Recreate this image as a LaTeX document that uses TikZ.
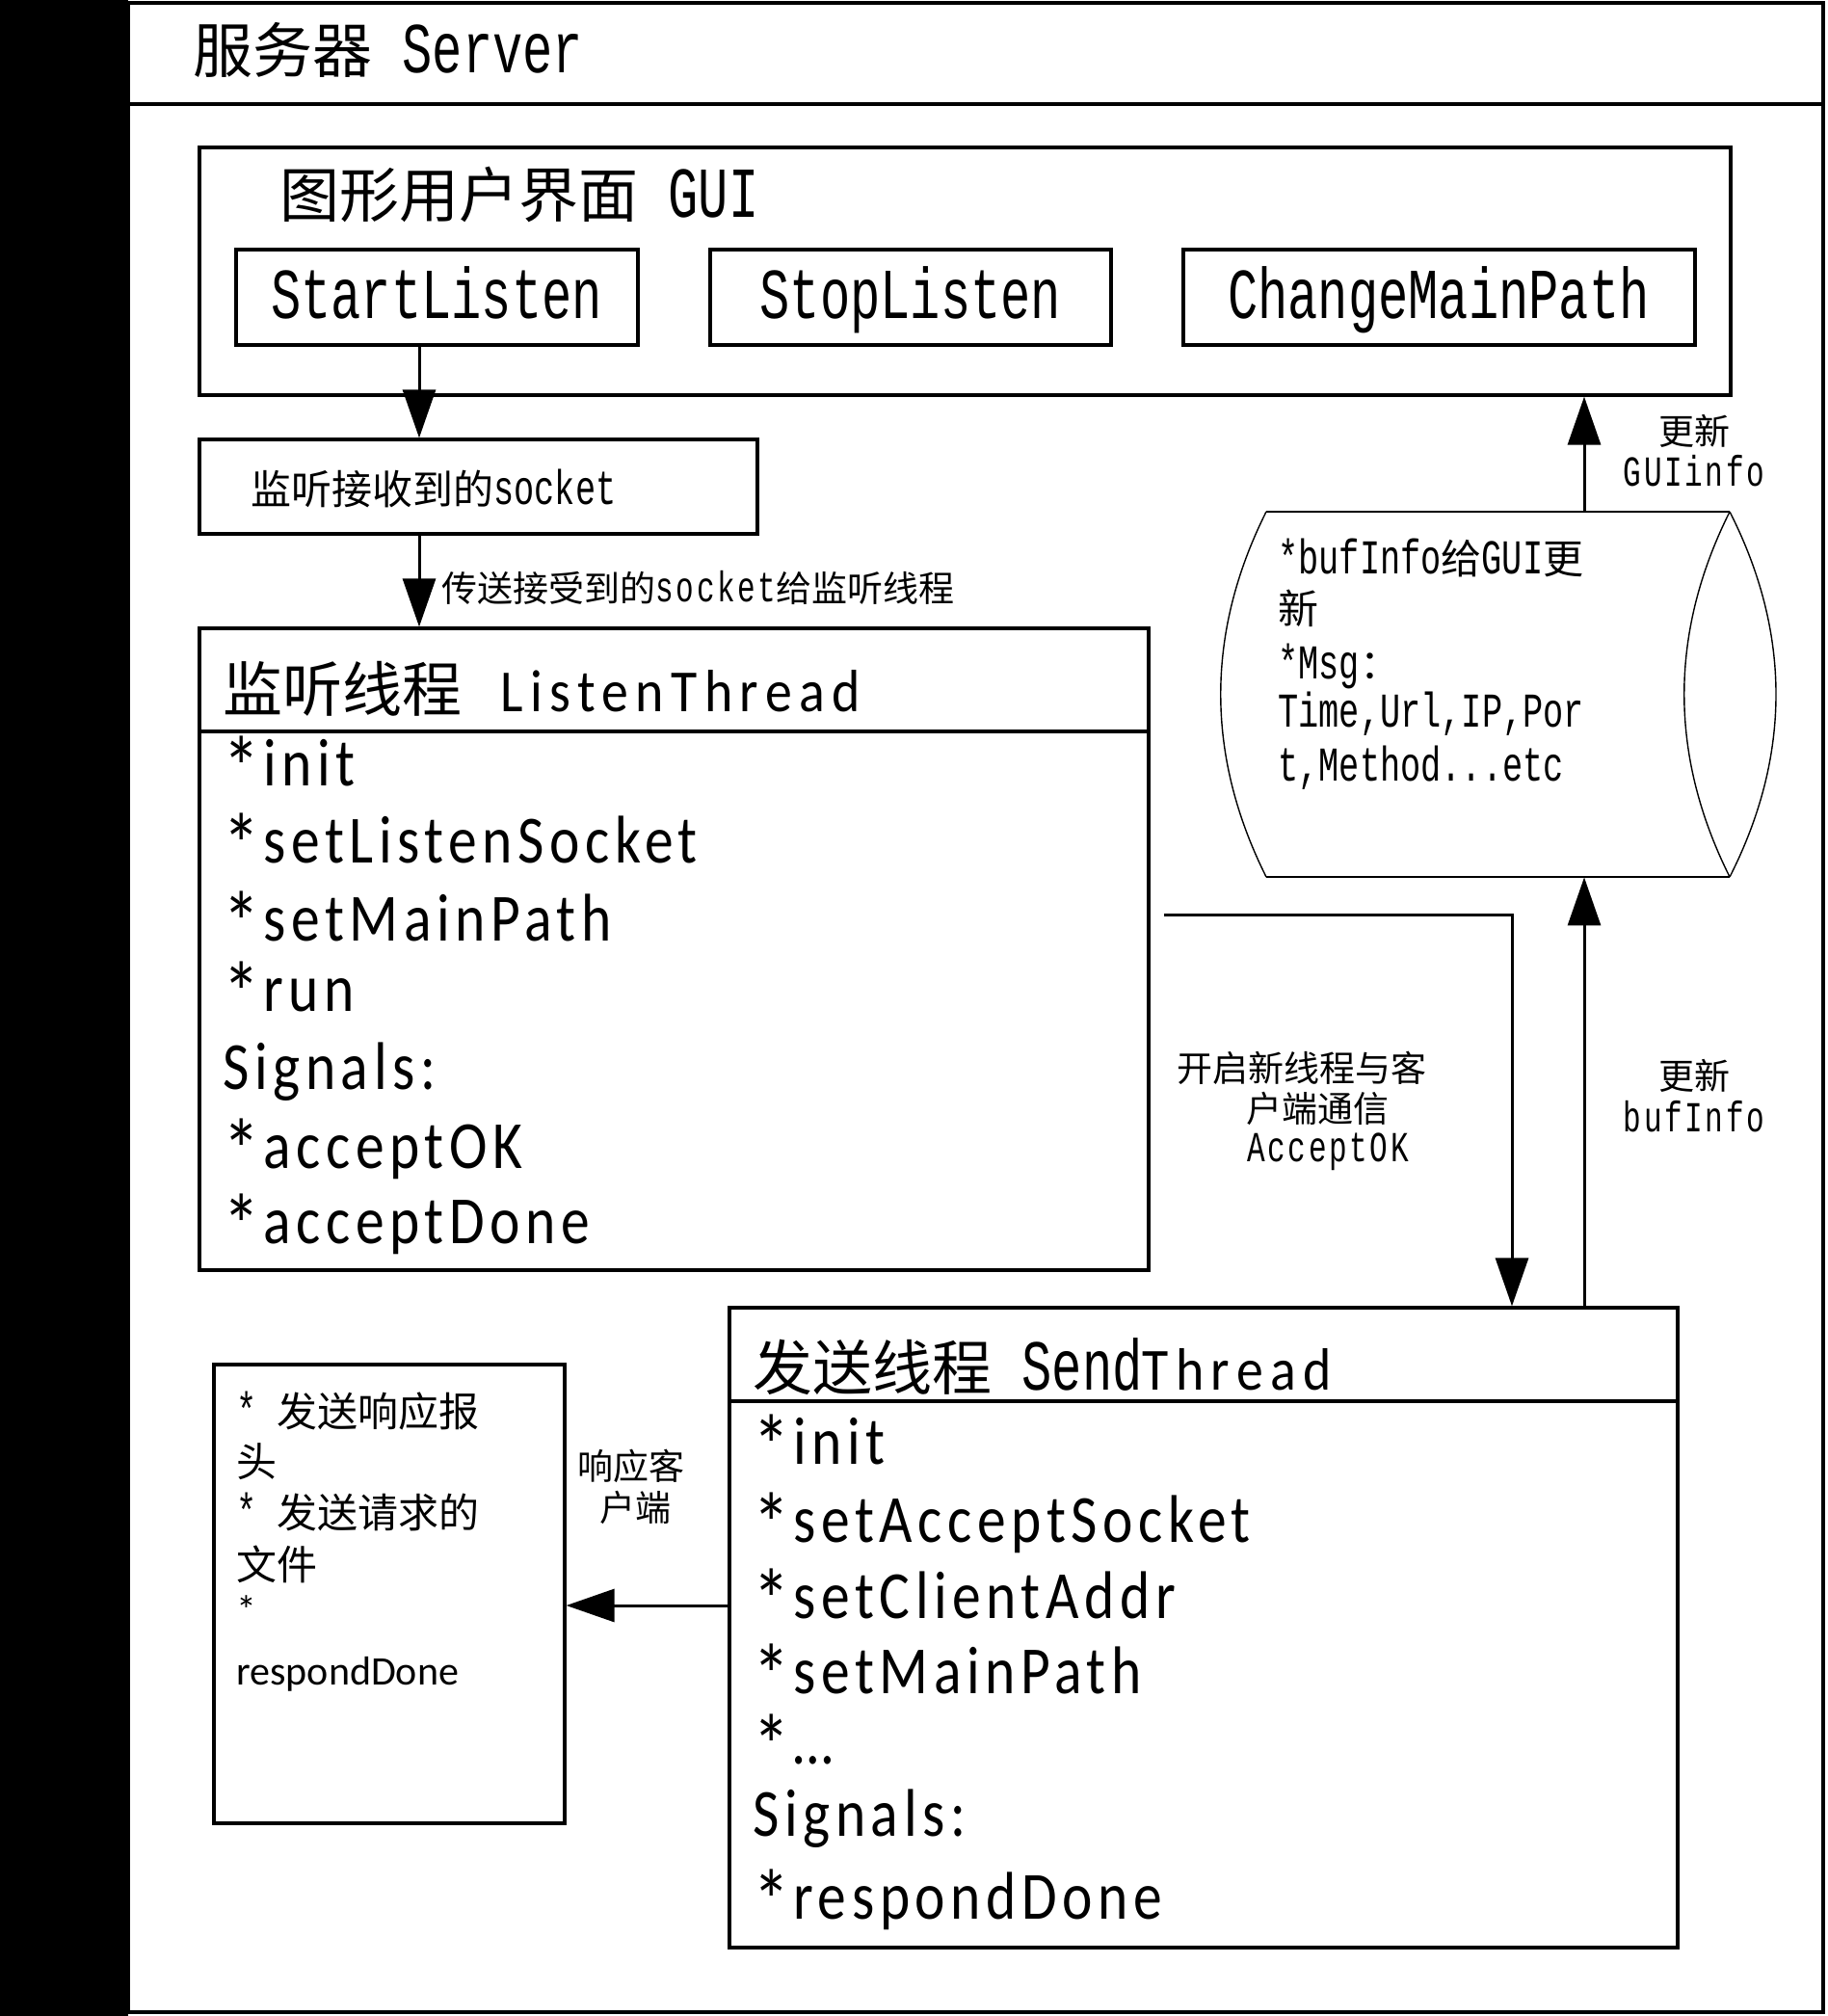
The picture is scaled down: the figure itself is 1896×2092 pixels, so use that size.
\documentclass[tikz,border=0pt]{standalone}
\usepackage{fontspec}
\usepackage{graphicx}
\setmainfont{Noto Sans CJK SC}
\newfontfamily\monof[Scale=1.2,FakeStretch=0.7]{Liberation Mono}
\newfontfamily\monow[Scale=1.2,FakeStretch=0.7,LetterSpace=6]{Liberation Mono}
\newfontfamily\calf[FakeStretch=0.85,LetterSpace=8]{Carlito}
\newfontfamily\calw[FakeStretch=0.9,LetterSpace=12]{Carlito}
\newfontfamily\calp{Carlito}
\usetikzlibrary{fit,arrows.meta}
\newcommand\itemstar{\makebox[21pt][l]{\raisebox{-6.5pt}{\scalebox{1.3}{*}}}}
\begin{document}
\begin{tikzpicture}[x=0.5pt,y=-0.5pt,
  box/.style={draw, line width=1.6pt, inner sep=0pt},
  thinline/.style={line width=0.7pt},
  conn/.style={line width=1.5pt, -{Triangle[length=25pt,width=17pt]}},
  txt/.style={inner sep=0pt, anchor=base west},
  ctxt/.style={inner sep=0pt, anchor=base},
  fbig/.style={font=\fontsize{31pt}{37pt}\selectfont},
  fmid/.style={font=\fontsize{21pt}{26pt}\selectfont},
  fsmall/.style={font=\fontsize{18.5pt}{22pt}\selectfont},
  item/.style={txt, text height=25pt, text depth=6pt, font=\fontsize{35pt}{42pt}\selectfont\calf}]
\fill[white] (0,0) rectangle (1896,2092);
\useasboundingbox (0,0) rectangle (1896,2092);
\fill[black] (0,0) rectangle (133,2092);

% outer frame
\node[box, fit={(133,3)(1892,2088)}] (server) {};
\coordinate (sepA) at (0,108);
\draw[line width=1.6pt] (server.west |- sepA) -- (server.east |- sepA);
\node[txt, fbig] (title) at (200,76) {服务器{\monof\ Server}};

% GUI
\node[box, fit={(207,153)(1796,410)}] (gui) {};
\node[txt, fbig] (guititle) at (290,226) {图形用户界面{\monof\ GUI}};
\node[box, fit={(245,259)(662,358)}] (start) {};
\node[box, fit={(737,259)(1153,358)}] (stop) {};
\node[box, fit={(1228,259)(1759,358)}] (change) {};
\node[ctxt, fbig] (startT) at (453,330) {\monof StartListen};
\node[ctxt, fbig] (stopT) at (945,330) {\monof StopListen};
\node[ctxt, fbig] (changeT) at (1493,330) {\monof ChangeMainPath};

% socket box
\node[box, fit={(207,456)(786,554)}] (sock) {};
\node[txt, fmid] (sockT) at (260,523) {监听接收到的{\monof socket}};
\node[txt, fsmall] (passT) at (458,624) {传送接受到的{\monow socket}给监听线程};

% ListenThread
\node[box, fit={(207,652)(1192,1318)}] (listen) {};
\coordinate (sepL) at (0,759);
\draw[line width=1.6pt] (listen.west |- sepL) -- (listen.east |- sepL);
\node[txt, fbig] (listenH) at (231,738) {监听线程\hspace{20pt}{\calw ListenThread}};
\node[item] (li1) at (231,815) {\itemstar init};
\node[item] (li2) at (231,895) {\itemstar setListenSocket};
\node[item] (li3) at (231,976) {\itemstar setMainPath};
\node[item] (li4) at (231,1049) {\itemstar run};
\node[item] (li5) at (231,1130) {Signals:};
\node[item] (li6) at (231,1212) {\itemstar acceptOK};
\node[item] (li7) at (231,1290) {\itemstar acceptDone};

% buffer cylinder
\node[inner sep=0pt, fit={(1268,531)(1843,910)}] (buf) {};
\draw[thinline] (1314,531) -- (1795,531);
\draw[thinline] (1314,910) -- (1795,910);
\draw[thinline] (1314,531) .. controls (1251,657) and (1251,784) .. (1314,910);
\draw[thinline] (1795,531) .. controls (1732,657) and (1732,784) .. (1795,910);
\draw[thinline] (1795,531) .. controls (1859,657) and (1859,784) .. (1795,910);
\node[txt, fmid] (c1) at (1326,595) {{\monof *bufInfo}给{\monof GUI}更};
\node[txt, fmid] (c2) at (1326,647) {新};
\node[txt, fmid] (c3) at (1326,704) {{\monof *Msg}：};
\node[txt, fmid] (c4) at (1326,754) {\monof Time,Url,IP,Por};
\node[txt, fmid] (c5) at (1326,810) {\monof t,Method...etc};

% SendThread
\node[box, fit={(757,1357)(1741,2021)}] (send) {};
\coordinate (sepS) at (0,1454);
\draw[line width=1.6pt] (send.west |- sepS) -- (send.east |- sepS);
\node[txt, fbig] (sendH) at (781,1442) {发送线程{\monof\ Send}{\calw Thread}};
\node[item] (si1) at (781,1519) {\itemstar init};
\node[item] (si2) at (781,1600) {\itemstar setAcceptSocket};
\node[item] (si3) at (781,1679) {\itemstar setClientAddr};
\node[item] (si4) at (781,1757) {\itemstar setMainPath};
\node[item] (si5) at (781,1830) {\itemstar …};
\node[item] (si6) at (781,1905) {Signals:};
\node[item] (si7) at (781,1991) {\itemstar respondDone};

% response box
\node[box, fit={(222,1416)(586,1892)}] (resp) {};
\node[txt, fmid] (r1) at (245,1480) {{\monof *\ }发送响应报};
\node[txt, fmid] (r2) at (245,1532) {头};
\node[txt, fmid] (r3) at (245,1585) {{\monof *\ }发送请求的};
\node[txt, fmid] (r4) at (245,1639) {文件};
\node[txt, fmid] (r5) at (245,1685) {\calp *};
\node[txt, fmid] (r6) at (245,1748) {\calp respondDone};

% connector labels
\node[ctxt, fsmall] (g1) at (1758,461) {更新};
\node[ctxt, fsmall] (g2) at (1758,504) {\monow GUIinfo};
\node[ctxt, fsmall] (a1) at (1351,1122) {开启新线程与客};
\node[ctxt, fsmall] (a2) at (1367,1164) {户端通信};
\node[ctxt, fsmall] (a3) at (1378,1205) {\monow AcceptOK};
\node[ctxt, fsmall] (b1) at (1758,1130) {更新};
\node[ctxt, fsmall] (b2) at (1758,1174) {\monow bufInfo};
\node[ctxt, fsmall] (k1) at (655,1535) {响应客};
\node[ctxt, fsmall] (k2) at (659,1578) {户端};

% connectors
\coordinate (aX) at (435,0);
\coordinate (bX) at (1644,0);
\coordinate (cX) at (1569,0);
\coordinate (dY) at (0,1666);
\coordinate (lout) at (1208,949);
\draw[conn] (start.south -| aX) -- (sock.north -| aX);
\draw[conn] (sock.south -| aX) -- (listen.north -| aX);
\draw[conn] (buf.north -| bX) -- (gui.south -| bX);
\draw[conn] (send.north -| bX) -- (buf.south -| bX);
\draw[conn] (lout) -| (send.north -| cX);
\draw[conn] (send.west |- dY) -- (resp.east |- dY);
\end{tikzpicture}
\end{document}
